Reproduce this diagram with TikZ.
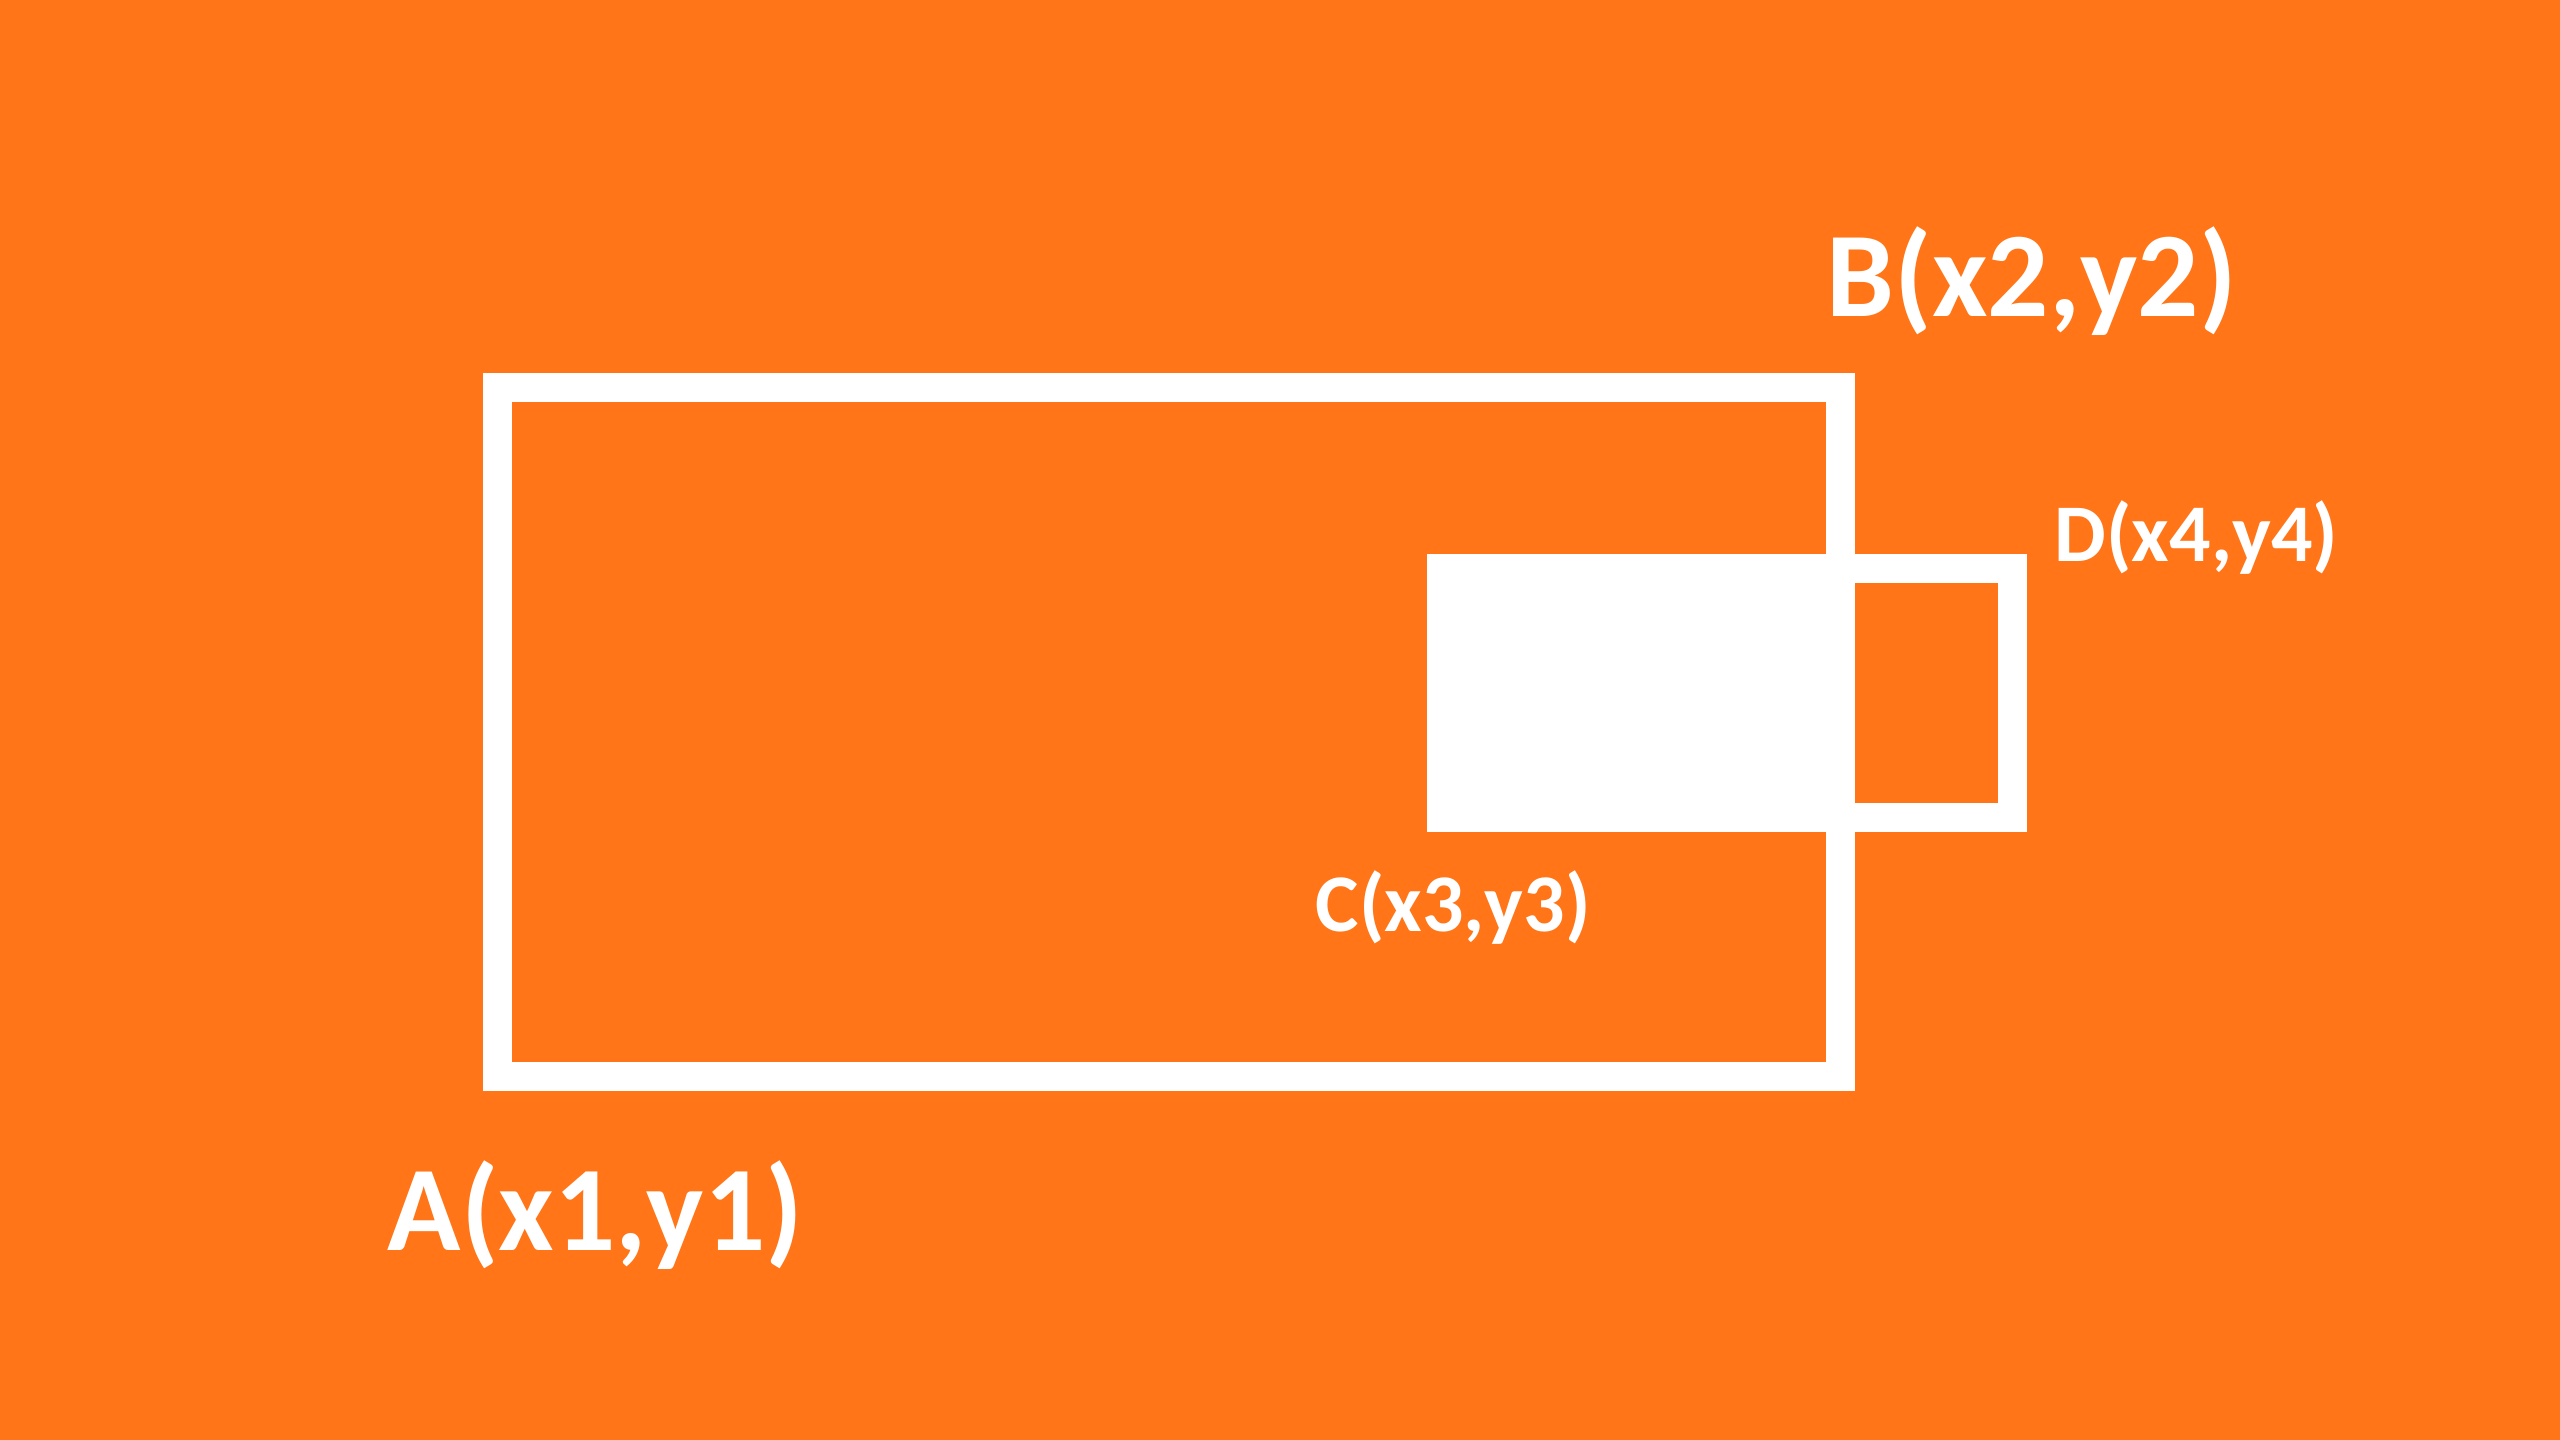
\documentclass[tikz,border=0pt]{standalone}
\usepackage{fontspec}
\setmainfont{Carlito}
\usepackage{tikz}
\usetikzlibrary{positioning}
\definecolor{pumpkin}{HTML}{FF7518}

\begin{document}
\begin{tikzpicture}[
        x=0.01cm, y=-0.01cm,
        frame/.style = {draw=white, line width=0.29cm},
        big/.style = {text=white, inner sep=0, anchor=base west, font=\fontsize{34.4}{40}\selectfont\bfseries},
        small/.style = {text=white, inner sep=0, anchor=base west, font=\fontsize{23.3}{28}\selectfont\bfseries},
        ]
        \fill[pumpkin] (0,0) rectangle (2560,1440);
        \useasboundingbox (0,0) rectangle (2560,1440);

        \coordinate (p1) at (497.5,1076.5);
        \coordinate (p2) at (1840.5,387.5);
        \coordinate (p3) at (1441.5,817.5);
        \coordinate (p4) at (2012.5,568.5);

        \fill[white] (p3) rectangle (p2 |- p4);
        \draw[frame] (p1) rectangle (p2);
        \draw[frame] (p3) rectangle (p4);

        \node[big](a) at (387,1250) {A(x1,y1)};
        \node[big](b) at (1826,317) {B(x2,y2)};
        \node[small](c) at (1315,932) {C(x3,y3)};
        \node[small](d) at (2054,562) {D(x4,y4)};
\end{tikzpicture}
\end{document}
